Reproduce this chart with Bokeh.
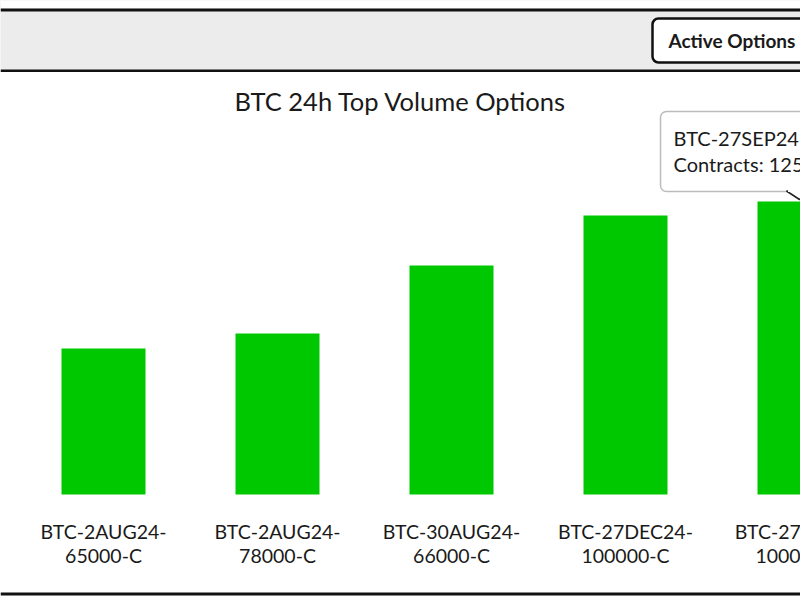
from bokeh.plotting import figure
from bokeh.models import Range1d, BoxAnnotation, ColumnDataSource
from bokeh.layouts import column
from bokeh.core.properties import value
from bokeh.embed import file_html
from bokeh.resources import INLINE

# ---- data ----
categories = ["BTC-2AUG24-65000-C", "BTC-2AUG24-78000-C", "BTC-30AUG24-66000-C",
              "BTC-27DEC24-100000-C", "BTC-27SEP24-100000-C"]
contracts = [623, 687, 977, 1190, 1250]
title_text = "BTC 24h Top Volume Options"
button_text = "Active Options"
highlight = 4

FONT = "Lato"
TXT = "#1a1a1a"
GREEN = "#00c800"

# ---- layout constants (pixels) ----
W = 800
HEAD_H = 72
CHART_H = 600 - HEAD_H
BASE_PX = 494          # page y of the bar baseline
X0_PX, STEP = 103, 174
PX_PER_UNIT = 293 / 1250


def dx(px):
    return (px - X0_PX) / STEP


def dy(py):
    return (BASE_PX - py) / PX_PER_UNIT


# ---- header ----
h = figure(width=W, height=HEAD_H, x_range=Range1d(0, W), y_range=Range1d(HEAD_H, 0),
           x_axis_type=None, y_axis_type=None, toolbar_location=None,
           output_backend="svg", min_border=0, outline_line_color=None,
           background_fill_color="#ececec")
h.grid.visible = False
h.quad(left=[0, 0, 0], right=[W, W, W], top=[0, 8, 69], bottom=[8, 11, 72],
       fill_color=["white", "#111111", "#111111"], line_color=None)
h.add_layout(BoxAnnotation(left=652, right=W + 40, top=18, bottom=62,
                           fill_color="white", fill_alpha=1.0,
                           line_color="#111111", line_width=2.5, line_alpha=1.0,
                           border_radius=6, level="underlay"))
h.text(x=[668], y=[40], text=[button_text], text_font=value(FONT),
       text_font_style="bold", text_font_size="19px", text_color=TXT,
       text_baseline="middle", text_align="left")

# ---- chart (frame covers the whole area) ----
p = figure(width=W, height=CHART_H, x_range=Range1d(dx(0), dx(W)),
           y_range=Range1d(dy(600), dy(HEAD_H)), x_axis_type=None, y_axis_type=None,
           toolbar_location=None, output_backend="svg", min_border=0,
           outline_line_color=None)
p.grid.visible = False
idx = list(range(len(categories)))
src = ColumnDataSource(dict(x=idx, top=contracts, name=categories))
p.vbar(x="x", top="top", width=84 / STEP, source=src, fill_color=GREEN, line_color=None)

# category labels (two lines, centred under each bar)
line1 = ["-".join(c.split("-")[:2]) + "-" for c in categories]
line2 = ["-".join(c.split("-")[2:]) for c in categories]
p.text(x=idx, y=[dy(531)] * len(idx), text=line1, text_font=value(FONT),
       text_font_size="19.5px", text_color=TXT, text_align="center", text_baseline="middle")
p.text(x=idx, y=[dy(555)] * len(idx), text=line2, text_font=value(FONT),
       text_font_size="19.5px", text_color=TXT, text_align="center", text_baseline="middle")

# title
p.text(x=[dx(400)], y=[dy(100)], text=[title_text], text_font=value(FONT),
       text_font_size="25.5px", text_color=TXT, text_align="center", text_baseline="middle")

# bottom border
p.quad(left=[dx(0)], right=[dx(W)], top=[dy(592)], bottom=[dy(595)],
       fill_color="#111111", line_color=None)

# tooltip on highlighted bar
hx, hy = highlight, contracts[highlight]
p.add_layout(BoxAnnotation(left=dx(660), right=dx(W + 60), top=dy(111), bottom=dy(191),
                           fill_color="white", fill_alpha=1.0, line_color="#222222",
                           line_width=1.5, border_radius=6, level="underlay"))
tip_y = hy + 2 / PX_PER_UNIT
p.patch(x=[hx - 13 / STEP, hx, hx + 13 / STEP], y=[dy(190.5), tip_y, dy(190.5)],
        fill_color="white", line_color="#222222", line_width=1.5)
p.quad(left=[hx - 11.5 / STEP], right=[hx + 11.5 / STEP], top=[dy(188)], bottom=[dy(191.5)],
       fill_color="white", line_color=None)
p.text(x=[dx(673), dx(673)], y=[dy(137), dy(163)],
       text=[categories[highlight], f"Contracts: {contracts[highlight]}"],
       text_font=value(FONT), text_font_size="20px", text_color=TXT,
       text_align="left", text_baseline="middle")

layout = column(h, p, spacing=0)
open("out.html", "w").write(file_html(layout, INLINE))
